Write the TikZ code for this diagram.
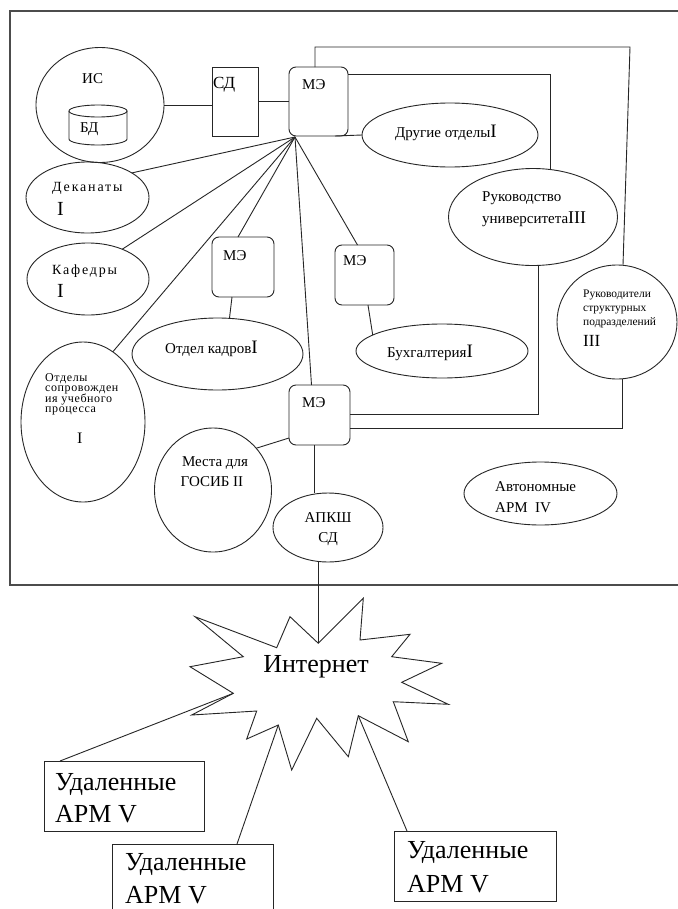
\documentclass[tikz,border=0pt]{standalone}
\usepackage{fontspec}
\setmainfont{Liberation Serif}
\usetikzlibrary{shapes.geometric}
\newcommand\rnum[2]{{\fontsize{#1}{#1}\selectfont #2}}
\begin{document}
\begin{tikzpicture}[x=1bp,y=-1bp,
  ln/.style={draw=black!85,line width=0.9bp},
  ell/.style={ellipse,ln,inner sep=0pt,outer sep=0pt},
  mebox/.style={rectangle,rounded corners=7bp,ln,inner sep=0pt,outer sep=0pt},
  sqbox/.style={rectangle,ln,inner sep=0pt,outer sep=0pt},
  outerframe/.style={draw=black!70,line width=1.4bp},
  txt/.style={inner sep=0pt,anchor=base west,font=\fontsize{15bp}{17bp}\selectfont},
  ctxt/.style={txt,anchor=base},
  sml/.style={txt,font=\fontsize{11.5bp}{13bp}\selectfont},
  tiny/.style={txt,font=\fontsize{12bp}{12bp}\selectfont\addfontfeatures{LetterSpace=5}},
  spaced/.style={txt,font=\fontsize{14bp}{15bp}\selectfont\addfontfeatures{LetterSpace=13}},
  bigtxt/.style={txt,font=\fontsize{26bp}{30bp}\selectfont}
]
\useasboundingbox (0,0) rectangle (678,909);
\fill[white] (0,0) rectangle (678,909);

% outer frame
\draw[outerframe] (678,11) -- (10,11) -- (10,585) -- (678,585);

% IS with database
\node[ell,minimum width=128bp,minimum height=115bp] (is) at (100,105) {};
\node[txt] (istxt) at (82,83) {ИС};
\draw[ln] (69,111) -- (69,139) arc[start angle=180,end angle=360,x radius=29bp,y radius=6bp] -- (127,111);
\draw[ln] (98,111) ellipse [x radius=29bp,y radius=6bp];
\node[txt] (bdtxt) at (80,132) {БД};

% SD and main ME
\node[sqbox,minimum width=46bp,minimum height=69bp] (sd) at (235,101.5) {};
\node[txt,font=\fontsize{17bp}{17bp}\selectfont] (sdtxt) at (213,88) {СД};
\node[mebox,minimum width=59bp,minimum height=69bp] (me1) at (318.5,101.5) {};
\node[txt] (me1txt) at (302,89) {МЭ};

% other switches
\node[mebox,minimum width=62bp,minimum height=60bp] (me2) at (243,267) {};
\node[txt] (me2txt) at (223,260) {МЭ};
\node[mebox,minimum width=59bp,minimum height=60bp] (me4) at (364.5,275) {};
\node[txt] (me4txt) at (343,265) {МЭ};
\node[mebox,minimum width=61bp,minimum height=60bp] (me3) at (319.5,415) {};
\node[txt] (me3txt) at (302,407) {МЭ};

% ellipses
\node[ell,minimum width=176bp,minimum height=64bp] (oth) at (450,135) {};
\node[txt] (othtxt) at (395,137) {Другие отделы\rnum{19bp}{I}};
\node[ell,minimum width=169bp,minimum height=97bp] (ruk) at (533,217) {};
\node[txt] (ruk1) at (482,201) {Руководство};
\node[txt] (ruk2) at (482,223) {университета\rnum{18bp}{III}};
\node[ell,minimum width=120bp,minimum height=114bp] (rukstr) at (617,322) {};
\node[sml] (rs1) at (583,297) {Руководители};
\node[sml] (rs2) at (583,311) {структурных};
\node[sml] (rs3) at (583,325) {подразделений};
\node[txt,font=\fontsize{17bp}{17bp}\selectfont] (rs4) at (583,346) {III};
\node[ell,minimum width=123bp,minimum height=71bp] (dek) at (87.5,197.5) {};
\node[spaced] (dektxt) at (52,191) {Деканаты};
\node[txt,font=\fontsize{20bp}{20bp}\selectfont] (dekI) at (57,215) {I};
\node[ell,minimum width=122bp,minimum height=72bp] (kaf) at (88,279) {};
\node[spaced] (kaftxt) at (52,274) {Кафедры};
\node[txt,font=\fontsize{20bp}{20bp}\selectfont] (kafI) at (57,297) {I};
\node[ell,minimum width=124bp,minimum height=160bp] (otd) at (83,422) {};
\node[tiny] (otd1) at (45,381) {Отделы};
\node[tiny] (otd2) at (45,391.5) {сопровожден};
\node[tiny] (otd3) at (45,402) {ия учебного};
\node[tiny] (otd4) at (45,412.5) {процесса};
\node[txt,font=\fontsize{16bp}{16bp}\selectfont] (otdI) at (77,443) {I};
\node[ell,minimum width=171bp,minimum height=72bp] (kadr) at (217.5,354) {};
\node[txt] (kadrtxt) at (165,353) {Отдел кадров\rnum{19bp}{I}};
\node[ell,minimum width=172bp,minimum height=54bp] (buh) at (442,351) {};
\node[txt] (buhtxt) at (387,357) {Бухгалтерия\rnum{19bp}{I}};
\node[ell,minimum width=117bp,minimum height=124bp] (mesta) at (213,490) {};
\node[ctxt] (mesta1) at (215,466) {Места для};
\node[ctxt] (mesta2) at (212,486) {ГОСИБ II};
\node[ell,minimum width=110bp,minimum height=69bp] (apksh) at (328,527.5) {};
\node[ctxt] (ap1) at (328,522) {АПКШ};
\node[ctxt] (ap2) at (328,542) {СД};
\node[ell,minimum width=153bp,minimum height=63bp] (avt) at (540.5,493.5) {};
\node[txt] (avt1) at (495,491) {Автономные};
\node[txt] (avt2) at (495,512) {АРМ\ \ IV};

% connectors in the top part
\draw[ln] (is.east) -- (is.east -| sd.west);
\draw[ln] (sd.east) -- (me1.west);
\coordinate (c1) at (315,47);
\coordinate (c2) at (630,47);
\coordinate (c6) at (623,266);
\draw[ln] (me1.north -| c1) -- (c1) -- (c2) -- (rukstr.north -| c6);
\coordinate (c3) at (550,74);
\draw[ln] (me1.east |- c3) -- (c3) -- (ruk.north -| c3);
\draw[ln] ([xshift=-13bp]me1.south east) -- (oth.west);
\coordinate (hub) at ([xshift=6bp,yshift=-1bp]me1.south west);
\draw[ln] (hub) -- (dek.29);
\draw[ln] (hub) -- (kaf.41);
\draw[ln] (hub) -- (otd.67);
\draw[ln] (hub) -- ([xshift=-5bp]me2.north);
\draw[ln] (hub) -- ([xshift=-8bp]me3.north);
\draw[ln] (hub) -- ([xshift=-7bp]me4.north);
\draw[ln] ([xshift=-11bp]me2.south) -- ([xshift=12bp]kadr.north);
\draw[ln] ([xshift=3.5bp]me4.south) -- (buh.167);
\coordinate (c4) at (538,414);
\draw[ln] (ruk.south -| c4) -- (c4) -- (c4 -| me3.east);
\coordinate (c5) at (622,428);
\draw[ln] (rukstr.south -| c5) -- (c5) -- (c5 -| me3.east);
\draw[ln] ([yshift=-23bp]me3.west) -- (mesta.44);
\draw[ln] ([xshift=-5.5bp]me3.south) -- ([xshift=-5.5bp]me3.south |- apksh.north);

% Internet star
\coordinate (v1) at (318.3,643.3);
\coordinate (v11) at (358.3,715.7);
\coordinate (v15) at (278.3,725);
\coordinate (v19) at (233.3,693.3);
\draw[ln,line join=miter] (v1) -- (363.3,598.3) -- (360,640) -- (410,634.3) -- (391.7,656.7)
  -- (441.7,663.3) -- (401.7,682.3) -- (448.3,704.3) -- (393.3,701.7) -- (408.3,741.7)
  -- (v11) -- (348.3,756.7) -- (316.7,718.3) -- (291.7,770) -- (v15)
  -- (246.7,739) -- (256.7,711) -- (191.7,715) -- (v19) -- (190,666.7)
  -- (243.3,656.7) -- (195,616.7) -- (276.7,647.7) -- (290,616.7) -- cycle;
\node[inner sep=0pt,font=\fontsize{26bp}{30bp}\selectfont] (inet) at (316,667) {Интернет};
\draw[ln] (apksh.south -| v1) -- (v1);

% remote workstations
\node[sqbox,minimum width=160bp,minimum height=70bp] (box1) at (124,796) {};
\node[bigtxt] (b1a) at (55,790) {Удаленные};
\node[bigtxt] (b1b) at (55,822) {АРМ V};
\node[sqbox,minimum width=161bp,minimum height=72bp] (box2) at (192.5,880) {};
\node[bigtxt] (b2a) at (125,870) {Удаленные};
\node[bigtxt] (b2b) at (125,903) {АРМ V};
\node[sqbox,minimum width=162bp,minimum height=70bp] (box3) at (475,866) {};
\node[bigtxt] (b3a) at (407,858) {Удаленные};
\node[bigtxt] (b3b) at (407,892) {АРМ V};
\draw[ln] (v19) -- ([xshift=16bp]box1.north west);
\draw[ln] (v15) -- ([xshift=44.5bp]box2.north);
\draw[ln] (v11) -- ([xshift=13bp]box3.north west);
\end{tikzpicture}
\end{document}
